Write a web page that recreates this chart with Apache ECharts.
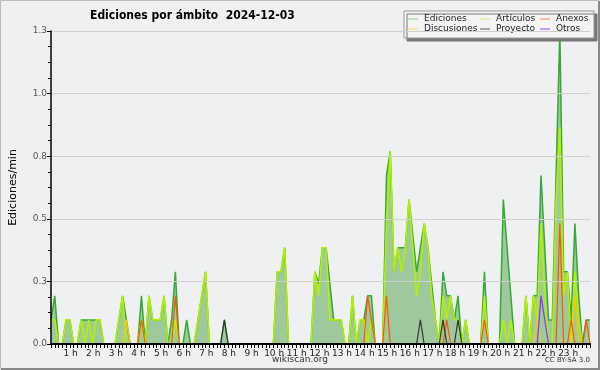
<!DOCTYPE html>
<html><head><meta charset="utf-8">
<script src="https://cdn.jsdelivr.net/npm/echarts/dist/echarts.min.js"></script>
<style>html,body{margin:0;padding:0;background:#f0f0f0;}#c{width:600px;height:370px;}</style>
</head><body><div id="c"></div>
<script>
// 10-minute bins, 00:00 .. 23:50
const hourLabels = ['1 h','2 h','3 h','4 h','5 h','6 h','7 h','8 h','9 h','10 h','11 h','12 h',
  '13 h','14 h','15 h','16 h','17 h','18 h','19 h','20 h','21 h','22 h','23 h'];
const ediciones = [
  0.1,0.2,0,0,0.1,0.1,0,0,0.1,0.1,0.1,0.1,
  0.1,0.1,0,0,0,0,0.1,0.2,0.1,0,0,0,
  0.2,0,0.2,0.1,0.1,0.1,0.2,0,0.1,0.3,0,0,
  0.1,0,0,0.1,0.2,0.3,0,0,0,0,0.1,0,
  0,0,0,0,0,0,0,0,0,0,0,0,
  0.3,0.3,0.4,0,0,0,0,0,0,0,0.3,0.25,
  0.4,0.4,0.25,0.1,0.1,0.1,0,0,0.2,0,0.1,0.1,
  0.2,0.2,0,0,0,0.7,0.8,0.3,0.4,0.4,0.4,0.6,
  0.45,0.3,0.4,0.5,0.4,0.25,0.1,0,0.3,0.2,0.2,0.1,
  0.2,0,0.1,0,0,0,0,0.3,0,0,0,0,
  0.6,0.4,0.2,0,0,0,0.2,0,0.2,0.2,0.7,0.4,
  0.1,0.1,0.7,1.3,0.3,0.3,0.1,0.5,0.2,0,0.1,0.1
];
const articulos = [
  0.1,0.1,0,0,0.1,0.1,0,0,0.1,0,0.1,0,
  0.1,0.1,0,0,0,0,0.1,0.2,0,0,0,0,
  0.1,0,0.2,0.1,0.1,0.1,0.2,0,0,0.1,0,0,
  0,0,0,0.1,0.2,0.3,0,0,0,0,0,0,
  0,0,0,0,0,0,0,0,0,0,0,0,
  0.3,0.3,0.4,0,0,0,0,0,0,0,0.3,0.2,
  0.4,0.4,0.1,0.1,0.1,0.1,0,0,0.2,0,0.1,0.1,
  0,0.1,0,0,0,0.5,0.8,0.3,0.4,0.3,0.4,0.6,
  0.4,0.2,0.3,0.5,0.4,0.2,0.1,0,0.2,0.1,0.2,0.1,
  0.1,0,0.1,0,0,0,0,0.2,0,0,0,0,
  0.1,0,0.1,0,0,0,0.2,0,0.2,0.1,0.5,0.2,
  0,0,0.6,0.9,0.2,0.3,0,0.3,0.1,0,0,0
];
const anexos = [
  0,0,0,0,0,0,0,0,0,0,0,0,
  0,0,0,0,0,0,0,0,0,0,0,0,
  0.1,0,0,0,0,0,0,0,0,0.2,0,0,
  0,0,0,0,0,0,0,0,0,0,0,0,
  0,0,0,0,0,0,0,0,0,0,0,0,
  0,0,0,0,0,0,0,0,0,0,0,0,
  0,0,0,0,0,0,0,0,0,0,0,0,
  0.2,0.1,0,0,0,0.2,0,0,0,0,0,0,
  0,0,0,0,0,0,0,0,0,0.1,0,0,
  0,0,0,0,0,0,0,0.1,0,0,0,0,
  0,0,0,0,0,0,0,0,0,0,0,0,
  0,0,0,0.5,0,0,0.1,0,0,0,0.1,0
];
const discusiones = [
  0,0,0,0,0,0,0,0,0,0,0,0,
  0,0,0,0,0,0,0,0,0.1,0,0,0,
  0,0,0,0,0,0,0,0,0,0,0,0,
  0,0,0,0,0,0,0,0,0,0,0,0,
  0,0,0,0,0,0,0,0,0,0,0,0,
  0,0,0,0,0,0,0,0,0,0,0,0,
  0,0,0,0,0,0,0,0,0,0,0,0,
  0,0,0,0,0,0,0,0,0,0,0,0,
  0,0,0,0,0,0,0,0,0,0,0,0,
  0,0,0,0,0,0,0,0,0,0,0,0,
  0,0,0,0,0,0,0,0,0,0.1,0,0,
  0,0,0,0,0,0,0,0.2,0,0,0,0
];
const proyecto = [
  0,0,0,0,0,0,0,0,0,0,0,0,
  0,0,0,0,0,0,0,0,0,0,0,0,
  0,0,0,0,0,0,0,0,0,0,0,0,
  0,0,0,0,0,0,0,0,0,0,0.1,0,
  0,0,0,0,0,0,0,0,0,0,0,0,
  0,0,0,0,0,0,0,0,0,0,0,0,
  0,0,0,0,0,0,0,0,0,0,0,0,
  0,0,0,0,0,0,0,0,0,0,0,0,
  0,0,0.1,0,0,0,0,0,0.1,0,0,0,
  0.1,0,0,0,0,0,0,0,0,0,0,0,
  0,0,0,0,0,0,0,0,0,0,0,0,
  0,0,0,0,0,0,0,0,0,0,0,0
];
const otros = [
  0,0,0,0,0,0,0,0,0,0,0,0,
  0,0,0,0,0,0,0,0,0,0,0,0,
  0,0,0,0,0,0,0,0,0,0,0,0,
  0,0,0,0,0,0,0,0,0,0,0,0,
  0,0,0,0,0,0,0,0,0,0,0,0,
  0,0,0,0,0,0,0,0,0,0,0,0,
  0,0,0,0,0,0,0,0,0,0,0,0,
  0,0,0,0,0,0,0,0,0,0,0,0,
  0,0,0,0,0,0,0,0,0,0,0,0,
  0,0,0,0,0,0,0,0,0,0,0,0,
  0,0,0,0,0,0,0,0,0,0,0.2,0.1,
  0,0,0,0,0,0,0,0,0,0,0,0
];
const categories = [];
for (let h = 0; h < 24; h++) for (let m = 0; m < 60; m += 10)
  categories.push(String(h).padStart(2,'0') + ':' + String(m).padStart(2,'0'));

const F = 'DejaVu Sans';
const FC = '"DejaVu Sans Condensed", "DejaVu Sans"';
const chart = echarts.init(document.getElementById('c'), null, {renderer:'canvas'});
function lineSeries(name, data, color, width, z) {
  return {name, type:'line', data, showSymbol:false, symbol:'none', z,
    lineStyle:{color, width}, itemStyle:{color}, emphasis:{disabled:true}};
}
const legendBase = {orient:'vertical', top:14, itemWidth:10, itemHeight:1, itemGap:0,
  icon:'rect', selectedMode:false, padding:0, z:6,
  textStyle:{fontFamily:F, fontSize:9, color:'#222', lineHeight:10, padding:[0,0,0,1]}};
const ed = lineSeries('Ediciones', ediciones, '#33aa33', 1.5, 2);
ed.areaStyle = {color:'#9dc99d', opacity:1};
chart.setOption({
  animation:false,
  backgroundColor:'#f0f0f0',
  title:{text:'Ediciones por ámbito  2024-12-03', left:85, top:5,
    textStyle:{fontFamily:FC, fontSize:12, fontWeight:'bold', color:'#000'}},
  legend:[
    Object.assign({}, legendBase, {left:408, data:[
      {name:'Ediciones', itemStyle:{color:'#88cc88'}},
      {name:'Discusiones', itemStyle:{color:'#ffd966'}}]}),
    Object.assign({}, legendBase, {left:480, data:[
      {name:'Artículos', itemStyle:{color:'#ccee66'}},
      {name:'Proyecto', itemStyle:{color:'#555555'}}]}),
    Object.assign({}, legendBase, {left:540, data:[
      {name:'Anexos', itemStyle:{color:'#ff8855'}},
      {name:'Otros', itemStyle:{color:'#9944ee'}}]})
  ],
  grid:{left:46, right:10, top:31, bottom:26, show:true, backgroundColor:'#eff0f2', borderWidth:0},
  xAxis:{type:'category', data:categories, boundaryGap:false, z:10,
    axisLine:{lineStyle:{color:'#000', width:2}},
    axisTick:{interval:0, length:4, lineStyle:{color:'#000'}},
    axisLabel:{interval:(i)=> i % 6 === 0 && i > 0, margin:5, padding:[0,6,0,0],
      formatter:(v, i)=> (i % 6 === 0 && i > 0) ? hourLabels[i/6 - 1] : '',
      fontFamily:F, fontSize:9, color:'#222'},
    splitLine:{show:false}},
  yAxis:{type:'value', min:0, max:1.3, interval:0.26, z:10,
    name:'Ediciones/min', nameLocation:'middle', nameGap:32, nameRotate:90,
    nameTextStyle:{fontFamily:F, fontSize:11, color:'#000'},
    axisLine:{show:true, lineStyle:{color:'#000', width:1.5}},
    axisTick:{show:true, length:4, lineStyle:{color:'#000'}},
    minorTick:{show:true, splitNumber:4, length:3, lineStyle:{color:'#000'}},
    axisLabel:{formatter:(v)=> v.toFixed(1), fontFamily:F, fontSize:9, color:'#555', margin:4},
    splitLine:{lineStyle:{color:'#cfcfcf', width:1}}},
  series:[
    ed,
    lineSeries('Artículos', articulos, '#b4f000', 1.6, 3),
    lineSeries('Discusiones', discusiones, '#ffc800', 1.2, 4),
    lineSeries('Anexos', anexos, '#ff5500', 1.2, 5),
    lineSeries('Proyecto', proyecto, '#333333', 1.2, 6),
    lineSeries('Otros', otros, '#8833ff', 1.2, 7)
  ],
  graphic:[
    {type:'rect', shape:{x:404, y:11, width:190, height:27}, z:5,
      style:{fill:'#f4f4f4', stroke:'#999', lineWidth:1,
        shadowColor:'#777', shadowOffsetX:3, shadowOffsetY:3, shadowBlur:0}},
    {type:'text', left:'center', top:355, z:5,
      style:{text:'wikiscan.org', fontFamily:F, fontSize:9, fill:'#333'}},
    {type:'text', right:10, top:357, z:5,
      style:{text:'CC BY-SA 3.0', fontFamily:F, fontSize:7, fill:'#333'}},
    {type:'rect', shape:{x:0.5, y:0.5, width:598, height:368}, z:0, silent:true,
      style:{fill:'none', stroke:'#bbb', lineWidth:1}},
    {type:'line', shape:{x1:1, y1:369, x2:600, y2:369}, z:0, style:{stroke:'#888', lineWidth:2}},
    {type:'line', shape:{x1:599, y1:1, x2:599, y2:370}, z:0, style:{stroke:'#888', lineWidth:2}}
  ]
});
</script></body></html>
